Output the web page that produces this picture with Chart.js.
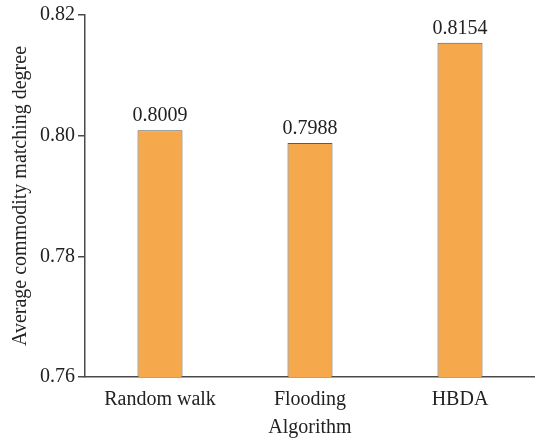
<!DOCTYPE html>
<html lang="en">
<head>
  <meta charset="UTF-8">
  <title>Average commodity matching degree</title>
  <script src="https://cdn.jsdelivr.net/npm/chart.js"></script>
  <style>
    html, body { margin: 0; padding: 0; background: #fff; }
    #wrap { width: 535px; height: 440px; }
  </style>
</head>
<body>
  <div id="wrap"><canvas id="barChart" width="535" height="440"></canvas></div>
  <script>
    // Dati
    const algorithms = ["Random walk", "Flooding", "HBDA"];
    const matchingDegree = [0.8009, 0.7988, 0.8154];
    const yTicks = [0.76, 0.78, 0.80, 0.82];

    const serif = "'Liberation Serif', 'DejaVu Serif', serif";
    const axisColor = '#4a4a4a';
    const fontSize = 20;

    // Scrive il valore sopra ogni barra
    const valueLabels = {
      id: 'valueLabels',
      afterDatasetsDraw(chart) {
        const ctx = chart.ctx;
        const meta = chart.getDatasetMeta(0);
        ctx.save();
        ctx.font = fontSize + 'px ' + serif;
        ctx.fillStyle = '#222';
        ctx.textAlign = 'center';
        ctx.textBaseline = 'bottom';
        meta.data.forEach((bar, i) => {
          ctx.fillText(matchingDegree[i].toFixed(4), bar.x, bar.y - 4);
        });
        ctx.restore();
      }
    };

    new Chart(document.getElementById('barChart'), {
      type: 'bar',
      data: {
        labels: algorithms,
        datasets: [{
          data: matchingDegree,
          backgroundColor: '#F6A84C',
          borderColor: '#5a5a5a',
          borderWidth: 1,
          categoryPercentage: 1,
          barPercentage: 0.3
        }]
      },
      options: {
        responsive: false,
        animation: false,
        layout: { padding: { top: 1, right: 0, left: 5, bottom: 0 } },
        plugins: { legend: { display: false }, tooltip: { enabled: false } },
        scales: {
          x: {
            grid: { display: false },
            border: { display: true, color: axisColor, width: 1.5 },
            ticks: { color: '#222', font: { family: serif, size: fontSize }, padding: 3 },
            title: { display: true, text: 'Algorithm', color: '#222', font: { family: serif, size: fontSize }, padding: { top: 1, bottom: 0 } }
          },
          y: {
            min: 0.76,
            max: 0.82,
            afterBuildTicks(scale) { scale.ticks = yTicks.map(v => ({ value: v })); },
            grid: { display: true, drawOnChartArea: false, drawTicks: true, tickLength: 7, color: axisColor, lineWidth: 1.5 },
            border: { display: true, color: axisColor, width: 1.5 },
            ticks: { color: '#222', font: { family: serif, size: fontSize }, padding: 3,
                     callback: v => v.toFixed(2) },
            title: { display: true, text: 'Average commodity matching degree', color: '#222', font: { family: serif, size: fontSize }, padding: { bottom: 4 } }
          }
        }
      },
      plugins: [valueLabels]
    });
  </script>
</body>
</html>
